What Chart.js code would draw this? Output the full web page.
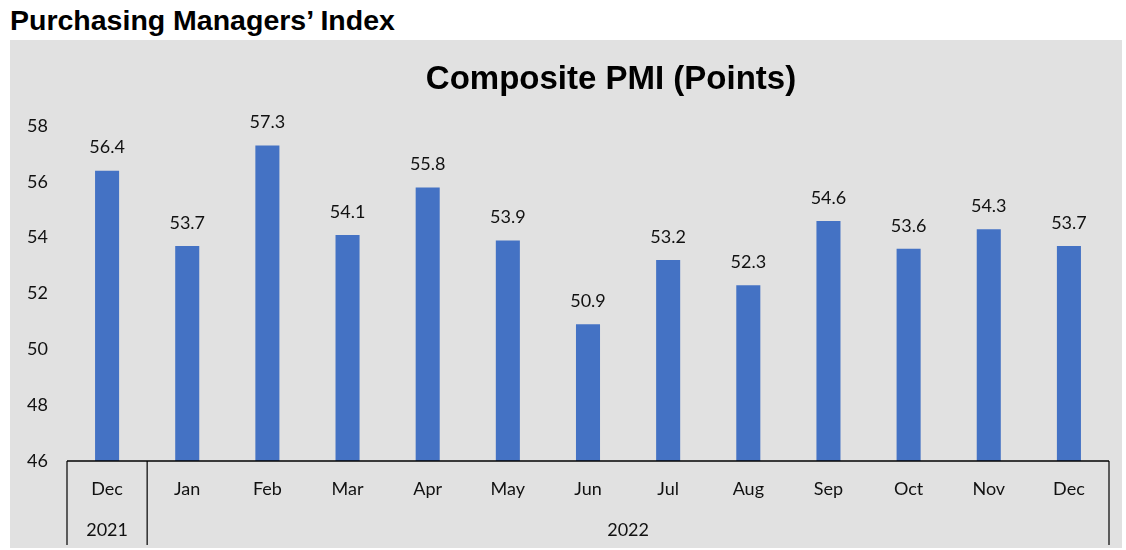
<!DOCTYPE html>
<html>
<head>
<meta charset="utf-8">
<script src="https://cdn.jsdelivr.net/npm/chart.js@4"></script>
<style>
  body { margin: 0; background: #fff; width: 1126px; height: 550px; position: relative; overflow: hidden; }
  #heading { position: absolute; left: 10px; top: 6px; font: bold 28.5px/1 "Liberation Sans", Arial, sans-serif; color: #000; }
  #box { position: absolute; left: 10px; top: 40px; width: 1112px; height: 508px; background: #e1e1e1; }
</style>
</head>
<body>
<div id="heading">Purchasing Managers’ Index</div>
<div id="box"><canvas id="Chart" width="1112" height="508"></canvas></div>
<script>
// chart data
const months = ["Dec", "Jan", "Feb", "Mar", "Apr", "May", "Jun", "Jul", "Aug", "Sep", "Oct", "Nov", "Dec"];
const pmiValues = [56.4, 53.7, 57.3, 54.1, 55.8, 53.9, 50.9, 53.2, 52.3, 54.6, 53.6, 54.3, 53.7];
// years and how many months belong to each
const years = ["2021", "2022"];
const yearSpans = [1, 12];

const LABEL_FONT = '18px Lato, "Open Sans", sans-serif';

// title, value labels above bars and the two-level category axis
const customDraw = {
  id: "customDraw",
  afterDatasetsDraw(chart) {
    const ctx = chart.ctx;
    const meta = chart.getDatasetMeta(0);
    ctx.save();
    ctx.font = LABEL_FONT;
    ctx.fillStyle = "#111";
    ctx.textAlign = "center";
    ctx.textBaseline = "middle";
    meta.data.forEach((bar, i) => {
      ctx.fillText(pmiValues[i].toFixed(1), bar.x, bar.y - 23);
    });
    // chart title (sits a bit right of centre, like the original)
    ctx.font = 'bold 33px "Liberation Sans", Arial, sans-serif';
    ctx.fillStyle = "#000";
    ctx.fillText("Composite PMI (Points)", 601, 40);
    ctx.restore();
  },
  afterDraw(chart) {
    const ctx = chart.ctx;
    const area = chart.chartArea;
    const x = chart.scales.x;
    const step = (area.right - area.left) / months.length;
    const lineBottom = 505;
    ctx.save();
    ctx.strokeStyle = "#000";
    ctx.lineWidth = 1.5;
    ctx.beginPath();
    ctx.moveTo(area.left, area.bottom);
    ctx.lineTo(area.right, area.bottom);
    ctx.stroke();
    // group separators
    let idx = 0;
    const bounds = [0];
    yearSpans.forEach((n) => { idx += n; bounds.push(idx); });
    ctx.lineWidth = 1.2;
    bounds.forEach((b) => {
      const bx = area.left + b * step;
      ctx.beginPath();
      ctx.moveTo(bx, area.bottom);
      ctx.lineTo(bx, lineBottom);
      ctx.stroke();
    });
    ctx.font = LABEL_FONT;
    ctx.fillStyle = "#111";
    ctx.textAlign = "center";
    ctx.textBaseline = "middle";
    months.forEach((m, i) => {
      ctx.fillText(m, x.getPixelForValue(i), area.bottom + 28);
    });
    years.forEach((y, i) => {
      const cx = area.left + ((bounds[i] + bounds[i + 1]) / 2) * step;
      ctx.fillText(y, cx, area.bottom + 69);
    });
    ctx.restore();
  },
};

new Chart(document.getElementById("Chart"), {
  type: "bar",
  data: {
    labels: months.map((m, i) => m + i),
    datasets: [
      {
        data: pmiValues,
        backgroundColor: "#4472C4",
        categoryPercentage: 1,
        barPercentage: 0.3,
      },
    ],
  },
  options: {
    responsive: false,
    animation: false,
    layout: { padding: { left: 0, right: 13, top: 86, bottom: 87 } },
    scales: {
      x: { display: false },
      y: {
        min: 46,
        max: 58,
        ticks: {
          stepSize: 2,
          color: "#111",
          font: { family: 'Lato, "Open Sans", sans-serif', size: 18 },
          padding: 19,
        },
        grid: { display: false, drawTicks: false },
        border: { display: false },
        afterFit(scale) {
          scale.width = 57;
        },
      },
    },
    plugins: {
      legend: { display: false },
      tooltip: { enabled: false },
      title: { display: false },
    },
  },
  plugins: [customDraw],
});
</script>
</body>
</html>
